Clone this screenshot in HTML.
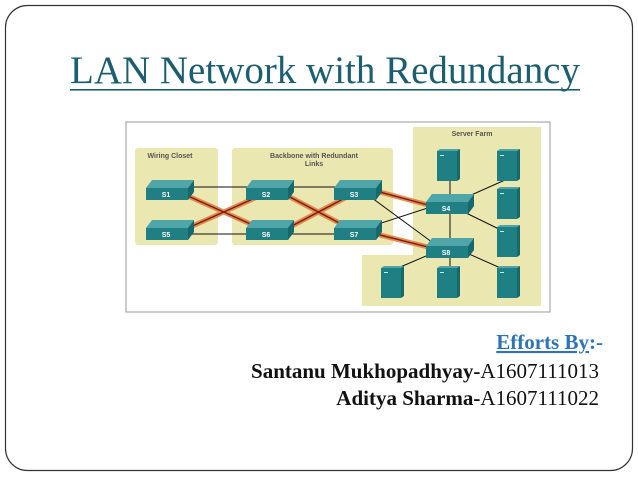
<!DOCTYPE html>
<html><head><meta charset="utf-8"><style>
html,body{margin:0;padding:0;background:#fff;width:638px;height:479px;overflow:hidden}
svg{display:block}
</style></head><body>
<svg width="638" height="479" viewBox="0 0 638 479" xmlns="http://www.w3.org/2000/svg" font-family="Liberation Serif, serif">
<rect x="5.5" y="5.5" width="627" height="465" rx="22" fill="#fff" stroke="#333" stroke-width="1.2"/>
<text x="325" y="83" text-anchor="middle" font-size="39" fill="#1b5e70" textLength="510" lengthAdjust="spacingAndGlyphs">LAN Network with Redundancy</text>
<rect x="70" y="89" width="510" height="1.6" fill="#1b5e70"/>
<!-- diagram -->
<rect x="126" y="122" width="424" height="190" fill="#fff" stroke="#999" stroke-width="1"/>
<g fill="#ebe7b0">
<rect x="135" y="148" width="83" height="97" rx="3"/>
<rect x="232" y="148" width="161" height="97" rx="3"/>
<path d="M413 127 H541 V306 H362 V255 H413 Z"/>
</g>
<g font-family="Liberation Sans, sans-serif" font-weight="bold" font-size="7" fill="#555" text-anchor="middle">
<text x="170" y="158">Wiring Closet</text>
<text x="314" y="158">Backbone with Redundant</text>
<text x="314" y="166">Links</text>
<text x="472" y="136">Server Farm</text>
</g>
<g stroke="#e07a3a" stroke-width="5" opacity="0.85" stroke-linecap="round">
<line x1="188" y1="196" x2="255" y2="226"/>
<line x1="188" y1="228" x2="255" y2="198"/>
<line x1="288" y1="196" x2="345" y2="226"/>
<line x1="288" y1="228" x2="345" y2="198"/>
<line x1="376" y1="191" x2="428" y2="205"/>
<line x1="376" y1="234" x2="428" y2="247"/>
</g>
<g stroke="#7a1a10" stroke-width="1.4">
<line x1="188" y1="196" x2="255" y2="226"/>
<line x1="188" y1="228" x2="255" y2="198"/>
<line x1="288" y1="196" x2="345" y2="226"/>
<line x1="288" y1="228" x2="345" y2="198"/>
<line x1="376" y1="191" x2="428" y2="205"/>
<line x1="376" y1="234" x2="428" y2="247"/>
</g>
<g stroke="#111" stroke-width="1">
<line x1="190" y1="187" x2="250" y2="187"/>
<line x1="190" y1="234" x2="250" y2="234"/>
<line x1="290" y1="187" x2="340" y2="187"/>
<line x1="290" y1="234" x2="340" y2="234"/>
<line x1="372" y1="198" x2="440" y2="248"/>
<line x1="372" y1="226" x2="440" y2="204"/>
<line x1="450" y1="180" x2="450" y2="250"/>
<line x1="460" y1="200" x2="505" y2="180"/>
<line x1="460" y1="210" x2="505" y2="232"/>
<line x1="460" y1="250" x2="505" y2="270"/>
<line x1="440" y1="250" x2="398" y2="268"/>
<line x1="450" y1="250" x2="450" y2="268"/>
</g>
<defs>
<g id="sw">
<path d="M-24 -4 L-18 -12 H24 L18 -4 Z" fill="#4fa5a8"/>
<rect x="-24" y="-4" width="42" height="12" fill="#1f7f82"/>
<path d="M18 -4 L24 -12 V0 L18 8 Z" fill="#15696c"/>
</g>
<g id="sv">
<path d="M-11 -16 L-8 -18 H12 L9 -16 Z" fill="#4fa5a8"/>
<rect x="-11" y="-16" width="20" height="30" fill="#1f8083"/>
<path d="M9 -16 L12 -18 V12 L9 14 Z" fill="#15696c"/>
<rect x="-8" y="-12" width="4" height="1" fill="#bfe"/>
</g>
</defs>
<use href="#sv" x="448" y="167"/>
<use href="#sv" x="508" y="167"/>
<use href="#sv" x="508" y="205"/>
<use href="#sv" x="508" y="243"/>
<use href="#sv" x="508" y="284"/>
<use href="#sv" x="392" y="284"/>
<use href="#sv" x="448" y="284"/>
<use href="#sw" x="170" y="192"/>
<use href="#sw" x="170" y="232"/>
<use href="#sw" x="270" y="192"/>
<use href="#sw" x="270" y="232"/>
<use href="#sw" x="358" y="192"/>
<use href="#sw" x="358" y="232"/>
<use href="#sw" x="450" y="206"/>
<use href="#sw" x="450" y="250"/>
<g font-family="Liberation Sans, sans-serif" font-weight="bold" font-size="7" fill="#fff" text-anchor="middle">
<text x="166" y="197">S1</text><text x="166" y="237">S5</text>
<text x="266" y="197">S2</text><text x="266" y="237">S6</text>
<text x="354" y="197">S3</text><text x="354" y="237">S7</text>
<text x="446" y="211">S4</text><text x="446" y="255">S8</text>
</g>
<g font-size="21" font-weight="bold" text-anchor="end">
<text x="603" y="349" fill="#2e74b5"><tspan text-decoration="underline">Efforts By</tspan>:-</text>
<text x="599" y="378" fill="#111">Santanu Mukhopadhyay-<tspan font-weight="normal">A1607111013</tspan></text>
<text x="599" y="405" fill="#111">Aditya Sharma-<tspan font-weight="normal">A1607111022</tspan></text>
</g>
</svg>
</body></html>
